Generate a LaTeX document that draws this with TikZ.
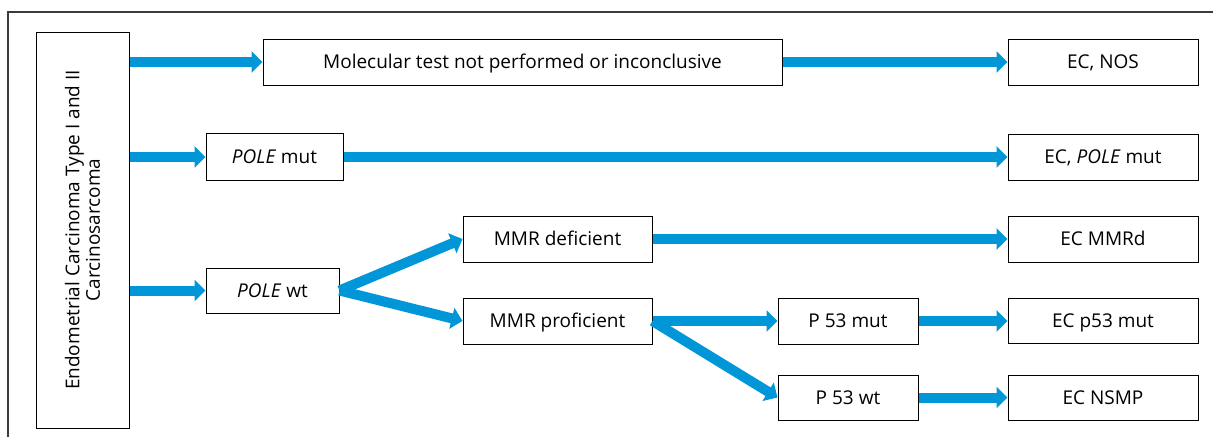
\documentclass[tikz,border=0pt]{standalone}
\usepackage{fontspec}
\setmainfont{Open Sans}
\usetikzlibrary{arrows.meta}

\definecolor{flowblue}{RGB}{0,150,215}
\definecolor{framegray}{RGB}{60,60,60}

\begin{document}
\begin{tikzpicture}[x=1pt, y=-1pt,
    box/.style={draw, line width=1pt, inner sep=0pt, text height=15pt, text depth=2pt,
      font=\fontsize{19}{20.5}\selectfont},
    flow/.style={draw=flowblue, fill=flowblue, line width=10pt, -{Triangle[width=21pt, length=11pt]}}]
  \useasboundingbox (0,0) rectangle (1213,437);

  % frame, open at right and bottom
  \draw[framegray, line width=1.5pt] (8,437) -- (8,12) -- (1213,12);

  % Start box
  \node[box, rotate=90, minimum width=396pt, minimum height=93pt, align=center,
    text height=, text depth=] (ec) at (82.5,230)
    {Endometrial Carcinoma Type I and II\\Carcinosarcoma};

  % Middle boxes
  \node[box, minimum width=519pt, minimum height=46pt] (mol) at (522.5,62) {Molecular test not performed or inconclusive};
  \node[box, minimum width=137pt, minimum height=47pt] (pmut) at (274.5,157) {\textit{POLE} mut};
  \node[box, minimum width=133pt, minimum height=45pt] (pwt) at (272.5,290.5) {\textit{POLE} wt};
  \node[box, minimum width=189pt, minimum height=46pt] (mmrd) at (557.5,239) {MMR deficient};
  \node[box, minimum width=189pt, minimum height=46pt] (mmrp) at (557.5,321) {MMR proficient};
  \node[box, minimum width=140pt, minimum height=46pt] (p53m) at (848,321) {P 53 mut};
  \node[box, minimum width=140pt, minimum height=45pt] (p53w) at (848,397.5) {P 53 wt};

  % Final classes
  \node[box, minimum width=190pt, minimum height=46pt] (nos) at (1103,62) {EC, NOS};
  \node[box, minimum width=190pt, minimum height=46pt] (ecpole) at (1103,157) {EC, \textit{POLE} mut};
  \node[box, minimum width=190pt, minimum height=46pt] (ecmmrd) at (1103,239) {EC MMRd};
  \node[box, minimum width=190pt, minimum height=45pt] (ecp53) at (1103,321) {EC p53 mut};
  \node[box, minimum width=190pt, minimum height=45pt] (nsmp) at (1103,397.5) {EC NSMP};

  % Arrows
  \draw[flow] (ec.south |- mol) -- (mol.west);
  \draw[flow] (mol.east) -- (nos.west);
  \draw[flow] (ec.south |- pmut) -- (pmut.west);
  \draw[flow] (pmut.east) -- (ecpole.west);
  \draw[flow] (ec.south |- pwt) -- (pwt.west);
  \draw[flow] (pwt.east) -- (mmrd.west);
  \draw[flow] (pwt.east) -- (mmrp.west);
  \draw[flow] (mmrd.east) -- (ecmmrd.west);
  \draw[flow] (mmrp.east) -- (p53m.west);
  \draw[flow] (mmrp.east) -- (p53w.west);
  \draw[flow] (p53m.east) -- (ecp53.west);
  \draw[flow] (p53w.east) -- (nsmp.west);
\end{tikzpicture}
\end{document}
